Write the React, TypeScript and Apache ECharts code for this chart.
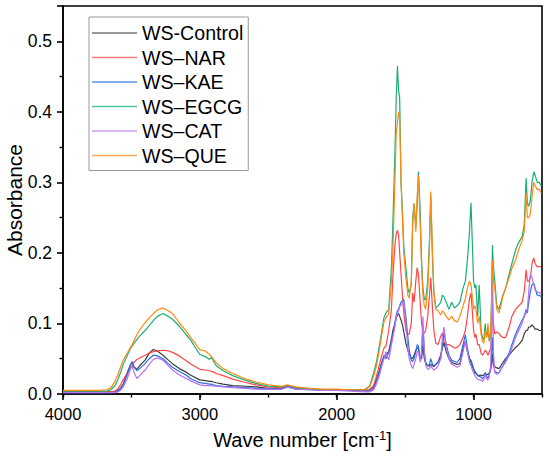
import React, { useEffect, useRef } from "react";
import * as echarts from "echarts";

const wavenumbers = [
  4000, 3750, 3680, 3650, 3620, 3600, 3580, 3560, 3530, 3510,
  3495, 3480, 3460, 3440, 3400, 3370, 3340, 3310, 3270, 3230,
  3200, 3150, 3100, 3070, 3000, 2960, 2930, 2915, 2900, 2880,
  2830, 2760, 2660, 2590, 2500, 2400, 2360, 2340, 2300, 2200,
  2100, 2000, 1900, 1800, 1760, 1730, 1710, 1690, 1670, 1655,
  1640, 1620, 1600, 1590, 1575, 1565, 1556, 1548, 1540, 1530,
  1520, 1510, 1495, 1480, 1470, 1455, 1445, 1435, 1422, 1412,
  1403, 1390, 1380, 1370, 1360, 1350, 1335, 1322, 1313, 1300,
  1290, 1276, 1260, 1240, 1228, 1216, 1200, 1180, 1160, 1140,
  1120, 1100, 1077, 1060, 1045, 1030, 1019, 1010, 1000, 990,
  983, 970, 959, 945, 935, 925, 915, 905, 895, 885,
  875, 868, 862, 855, 845, 830, 815, 800, 785, 766,
  740, 720, 693, 670, 645, 630, 616, 607, 597, 585,
  573, 560, 550, 535, 520, 505,
];

const wsControl = [
  0.003, 0.003, 0.003, 0.003, 0.003, 0.005, 0.008, 0.014, 0.03, 0.04,
  0.045, 0.038, 0.035, 0.04, 0.048, 0.058, 0.063, 0.061, 0.055, 0.048,
  0.043, 0.036, 0.031, 0.027, 0.02, 0.019, 0.018, 0.018, 0.017, 0.016,
  0.014, 0.012, 0.011, 0.01, 0.008, 0.008, 0.011, 0.01, 0.008, 0.007,
  0.006, 0.006, 0.006, 0.005, 0.006, 0.01, 0.02, 0.032, 0.045, 0.052,
  0.055, 0.06, 0.078, 0.09, 0.1, 0.108, 0.112, 0.114, 0.11, 0.105,
  0.098, 0.088, 0.072, 0.062, 0.056, 0.051, 0.05, 0.055, 0.062, 0.065,
  0.065, 0.05, 0.05, 0.07, 0.05, 0.044, 0.04, 0.04, 0.042, 0.04,
  0.039, 0.042, 0.045, 0.055, 0.065, 0.073, 0.06, 0.05, 0.045, 0.043,
  0.042, 0.043, 0.065, 0.075, 0.06, 0.05, 0.045, 0.04, 0.035, 0.03,
  0.029, 0.027, 0.026, 0.027, 0.026, 0.027, 0.03, 0.027, 0.028, 0.03,
  0.035, 0.045, 0.057, 0.04, 0.039, 0.037, 0.036, 0.04, 0.045, 0.05,
  0.055, 0.06, 0.066, 0.07, 0.076, 0.085, 0.09, 0.09, 0.095, 0.095,
  0.098, 0.095, 0.092, 0.092, 0.09, 0.09,
];

const wsNAR = [
  0.003, 0.003, 0.003, 0.003, 0.004, 0.007, 0.013, 0.02, 0.03, 0.036,
  0.04, 0.045, 0.049, 0.051, 0.055, 0.058, 0.06, 0.061, 0.062, 0.061,
  0.059, 0.054, 0.047, 0.043, 0.035, 0.034, 0.033, 0.032, 0.031, 0.029,
  0.026, 0.021, 0.016, 0.013, 0.01, 0.009, 0.012, 0.011, 0.009, 0.007,
  0.006, 0.006, 0.005, 0.005, 0.006, 0.012, 0.025, 0.04, 0.055, 0.065,
  0.068, 0.09, 0.12, 0.165, 0.21, 0.228, 0.232, 0.225, 0.2, 0.17,
  0.14, 0.115, 0.09, 0.085, 0.085, 0.1, 0.143, 0.13, 0.16, 0.179,
  0.17, 0.13, 0.1, 0.088, 0.086, 0.09, 0.11, 0.14, 0.165, 0.12,
  0.09, 0.072, 0.07, 0.082, 0.086, 0.075, 0.07, 0.07, 0.068, 0.065,
  0.066, 0.07, 0.08, 0.09, 0.11, 0.135, 0.143, 0.12, 0.09, 0.08,
  0.085, 0.07, 0.07, 0.058, 0.055, 0.058, 0.062, 0.06, 0.055, 0.06,
  0.065, 0.09, 0.13, 0.1, 0.085, 0.088, 0.086, 0.082, 0.08, 0.08,
  0.095, 0.11, 0.12, 0.125, 0.13, 0.145, 0.176, 0.16, 0.16, 0.165,
  0.185, 0.193, 0.185, 0.18, 0.181, 0.18,
];

const wsKAE = [
  0.002, 0.002, 0.002, 0.002, 0.003, 0.004, 0.007, 0.013, 0.028, 0.04,
  0.046, 0.038, 0.033, 0.036, 0.043, 0.05, 0.055, 0.054, 0.05, 0.043,
  0.038, 0.032, 0.027, 0.022, 0.016, 0.015, 0.014, 0.014, 0.013, 0.012,
  0.011, 0.01, 0.009, 0.008, 0.007, 0.007, 0.01, 0.009, 0.007, 0.006,
  0.005, 0.005, 0.005, 0.004, 0.004, 0.008, 0.018, 0.03, 0.045, 0.055,
  0.05, 0.058, 0.075, 0.085, 0.1, 0.112, 0.118, 0.12, 0.125, 0.13,
  0.132, 0.134, 0.11, 0.08, 0.062, 0.048, 0.046, 0.05, 0.06, 0.07,
  0.068, 0.05, 0.055, 0.095, 0.06, 0.045, 0.04, 0.042, 0.05, 0.042,
  0.04, 0.042, 0.045, 0.05, 0.07, 0.088, 0.07, 0.055, 0.048, 0.046,
  0.045, 0.05, 0.07, 0.084, 0.065, 0.05, 0.048, 0.043, 0.036, 0.032,
  0.03, 0.026, 0.025, 0.024, 0.022, 0.023, 0.03, 0.025, 0.022, 0.028,
  0.035, 0.06, 0.08, 0.045, 0.032, 0.03, 0.03, 0.035, 0.04, 0.048,
  0.058, 0.07, 0.085, 0.095, 0.105, 0.11, 0.12, 0.115, 0.13, 0.145,
  0.155, 0.157, 0.15, 0.14, 0.14, 0.138,
];

const wsEGCG = [
  0.004, 0.004, 0.004, 0.006, 0.012, 0.02, 0.03, 0.042, 0.055, 0.063,
  0.068, 0.072, 0.077, 0.082, 0.09, 0.097, 0.104, 0.11, 0.114, 0.11,
  0.106, 0.096, 0.084, 0.077, 0.056, 0.053, 0.049, 0.052, 0.046, 0.04,
  0.033, 0.026, 0.019, 0.015, 0.011, 0.01, 0.012, 0.011, 0.009, 0.007,
  0.006, 0.006, 0.006, 0.006, 0.011, 0.03, 0.045, 0.066, 0.09, 0.108,
  0.115, 0.12, 0.18, 0.24, 0.34, 0.42, 0.465, 0.43, 0.42, 0.3,
  0.26, 0.21, 0.18, 0.15, 0.143, 0.155, 0.25, 0.27, 0.237, 0.27,
  0.315, 0.26, 0.19, 0.15, 0.135, 0.133, 0.16, 0.22, 0.28, 0.19,
  0.143, 0.122, 0.125, 0.13, 0.14, 0.138, 0.13, 0.12, 0.13, 0.122,
  0.125, 0.13, 0.15, 0.16, 0.19, 0.23, 0.271, 0.22, 0.16, 0.15,
  0.155, 0.11, 0.155, 0.09, 0.08, 0.077, 0.1, 0.08, 0.09, 0.075,
  0.085, 0.14, 0.211, 0.18, 0.16, 0.125, 0.12, 0.13, 0.14, 0.15,
  0.17, 0.185, 0.204, 0.215, 0.223, 0.24, 0.306, 0.27, 0.266, 0.275,
  0.3, 0.315, 0.31, 0.3, 0.3, 0.295,
];

const wsCAT = [
  0.002, 0.002, 0.002, 0.002, 0.002, 0.003, 0.005, 0.01, 0.022, 0.034,
  0.04, 0.03, 0.022, 0.026, 0.034, 0.042, 0.049, 0.051, 0.048, 0.04,
  0.034, 0.027, 0.022, 0.019, 0.013, 0.012, 0.012, 0.012, 0.011, 0.011,
  0.01, 0.009, 0.008, 0.007, 0.007, 0.007, 0.01, 0.009, 0.007, 0.006,
  0.005, 0.005, 0.004, 0.003, 0.003, 0.006, 0.014, 0.025, 0.04, 0.05,
  0.06, 0.048, 0.07, 0.08, 0.095, 0.108, 0.115, 0.118, 0.124, 0.126,
  0.128, 0.131, 0.1, 0.065, 0.05, 0.04, 0.036, 0.042, 0.05, 0.06,
  0.06, 0.045, 0.06, 0.11, 0.06, 0.04, 0.035, 0.036, 0.04, 0.036,
  0.034, 0.036, 0.04, 0.05, 0.08, 0.095, 0.065, 0.05, 0.042, 0.04,
  0.038, 0.04, 0.06, 0.075, 0.06, 0.045, 0.04, 0.035, 0.03, 0.026,
  0.024, 0.021, 0.02, 0.02, 0.018, 0.02, 0.028, 0.022, 0.02, 0.025,
  0.04, 0.09, 0.19, 0.06, 0.03, 0.028, 0.03, 0.035, 0.04, 0.045,
  0.055, 0.065, 0.08, 0.09, 0.1, 0.11, 0.115, 0.12, 0.145, 0.17,
  0.165, 0.155, 0.148, 0.144, 0.144, 0.142,
];

const wsQUE = [
  0.005, 0.005, 0.006, 0.009, 0.018, 0.027, 0.038, 0.048, 0.058, 0.065,
  0.07, 0.076, 0.084, 0.091, 0.101, 0.108, 0.114, 0.119, 0.122, 0.118,
  0.114, 0.101, 0.089, 0.081, 0.063, 0.061, 0.056, 0.053, 0.049, 0.044,
  0.036, 0.029, 0.021, 0.017, 0.013, 0.011, 0.013, 0.012, 0.01, 0.008,
  0.007, 0.007, 0.006, 0.006, 0.01, 0.025, 0.04, 0.06, 0.085, 0.102,
  0.108, 0.114, 0.16, 0.2, 0.3, 0.37, 0.385, 0.4, 0.39, 0.3,
  0.25, 0.2, 0.165, 0.14, 0.136, 0.16, 0.24, 0.27, 0.23, 0.28,
  0.31, 0.24, 0.18, 0.14, 0.125, 0.12, 0.15, 0.21, 0.287, 0.2,
  0.145, 0.12, 0.118, 0.112, 0.118, 0.115, 0.11, 0.105, 0.11, 0.104,
  0.102, 0.11, 0.125, 0.135, 0.15, 0.16, 0.155, 0.14, 0.12, 0.125,
  0.12, 0.1, 0.11, 0.085, 0.075, 0.072, 0.09, 0.08, 0.1, 0.075,
  0.09, 0.13, 0.19, 0.16, 0.15, 0.12, 0.115, 0.125, 0.14, 0.15,
  0.165, 0.178, 0.19, 0.205, 0.218, 0.23, 0.285, 0.25, 0.25, 0.255,
  0.28, 0.3, 0.295, 0.29, 0.29, 0.285,
];

const seriesNames = ["WS-Control", "WS\u2013NAR", "WS\u2013KAE", "WS\u2013EGCG", "WS\u2013CAT", "WS\u2013QUE"];
const seriesValues = [wsControl, wsNAR, wsKAE, wsEGCG, wsCAT, wsQUE];
const seriesColors = ["#3c3c3c", "#ff4545", "#2a6fe0", "#1aad78", "#b86ef5", "#ff8a10"];
const legendColors = ["#777777", "#ff7a7a", "#5f95ea", "#4cc494", "#cf9cf7", "#ffaa55"];

const xMajorTicks = [1000, 2000, 3000, 4000];
const yTickLabels = ["0.0", "0.1", "0.2", "0.3", "0.4", "0.5"];

const FONT = "'Liberation Sans', Arial, sans-serif";

export default function App() {
  const ref = useRef<HTMLDivElement>(null);
  useEffect(() => {
    if (!ref.current) return;
    const chart = echarts.init(ref.current, null, { renderer: "svg" });
    const axisLineStyle = { color: "#000", width: 1.6 };
    const option: any = {
      animation: false,
      backgroundColor: "#fff",
      textStyle: { fontFamily: FONT },
      grid: {
        left: 63,
        right: 8,
        top: 6,
        bottom: 68,
        containLabel: false,
        outerBoundsMode: "none",
        show: true,
        borderColor: "#000",
        borderWidth: 1.6,
        backgroundColor: "transparent",
      },
      legend: {
        orient: "vertical",
        left: 89,
        top: 17,
        padding: [6, 5, 5, 3],
        itemGap: 4.5,
        itemWidth: 45,
        itemHeight: 1.6,
        icon: "rect",
        borderColor: "#999",
        borderWidth: 1,
        backgroundColor: "#fff",
        textStyle: { fontSize: 19.6, color: "#000", fontFamily: FONT, lineHeight: 20 },
        data: seriesNames.map((name, i) => ({ name, itemStyle: { color: legendColors[i] } })),
      },
      xAxis: [
        {
          type: "value",
          inverse: true,
          min: 500,
          max: 4000,
          position: "bottom",
          name: "Wave number [cm{sup|-1}]",
          nameLocation: "middle",
          nameGap: 35,
          nameMoveOverlap: false,
          nameTextStyle: {
            fontSize: 20,
            color: "#000",
            fontFamily: FONT,
            rich: { sup: { fontSize: 13, verticalAlign: "top", padding: [0, 0, 9, 0], color: "#000", fontFamily: FONT } },
          },
          axisLine: { show: true, lineStyle: axisLineStyle },
          axisTick: { show: true, length: 6, lineStyle: { width: 1.6, color: "#000" }, customValues: xMajorTicks },
          axisLabel: {
            fontSize: 16.5,
            color: "#000",
            margin: 11,
            customValues: xMajorTicks,
            fontFamily: FONT,
            formatter: (v: number) => String(Math.round(v)),
          },
          splitLine: { show: false },
        },
        {
          type: "value",
          inverse: true,
          min: 500,
          max: 4000,
          interval: 500,
          position: "bottom",
          axisLine: { show: false },
          axisTick: { show: true, length: 3.5, lineStyle: { width: 1.4, color: "#000" } },
          axisLabel: { show: false },
          splitLine: { show: false },
        },
      ],
      yAxis: {
        type: "value",
        min: 0,
        max: 0.55,
        interval: 0.1,
        name: "Absorbance",
        nameLocation: "middle",
        nameGap: 38,
        nameMoveOverlap: false,
        nameRotate: 90,
        nameTextStyle: { fontSize: 21, color: "#000", fontFamily: FONT },
        axisLine: { show: true, lineStyle: axisLineStyle },
        axisTick: { show: true, length: 6, lineStyle: { width: 1.6, color: "#000" } },
        minorTick: { show: true, splitNumber: 2, length: 3.5, lineStyle: { width: 1.4, color: "#000" } },
        axisLabel: {
          fontSize: 17.5,
          color: "#000",
          margin: 11,
          fontFamily: FONT,
          formatter: (v: number) => {
            const i = Math.round(v * 10);
            return yTickLabels[i] ?? "";
          },
        },
        splitLine: { show: false },
      },
      series: seriesNames.map((name, i) => ({
        name,
        type: "line",
        xAxisIndex: 0,
        symbol: "none",
        showSymbol: false,
        smooth: false,
        color: seriesColors[i],
        lineStyle: { width: 1.2, color: seriesColors[i] },
        data: wavenumbers.map((w, k) => [w, seriesValues[i][k]]),
      })),
    };
    chart.setOption(option);
    return () => chart.dispose();
  }, []);
  return <div ref={ref} style={{ position: "absolute", left: 0, top: 0, width: 550, height: 462 }} />;
}
